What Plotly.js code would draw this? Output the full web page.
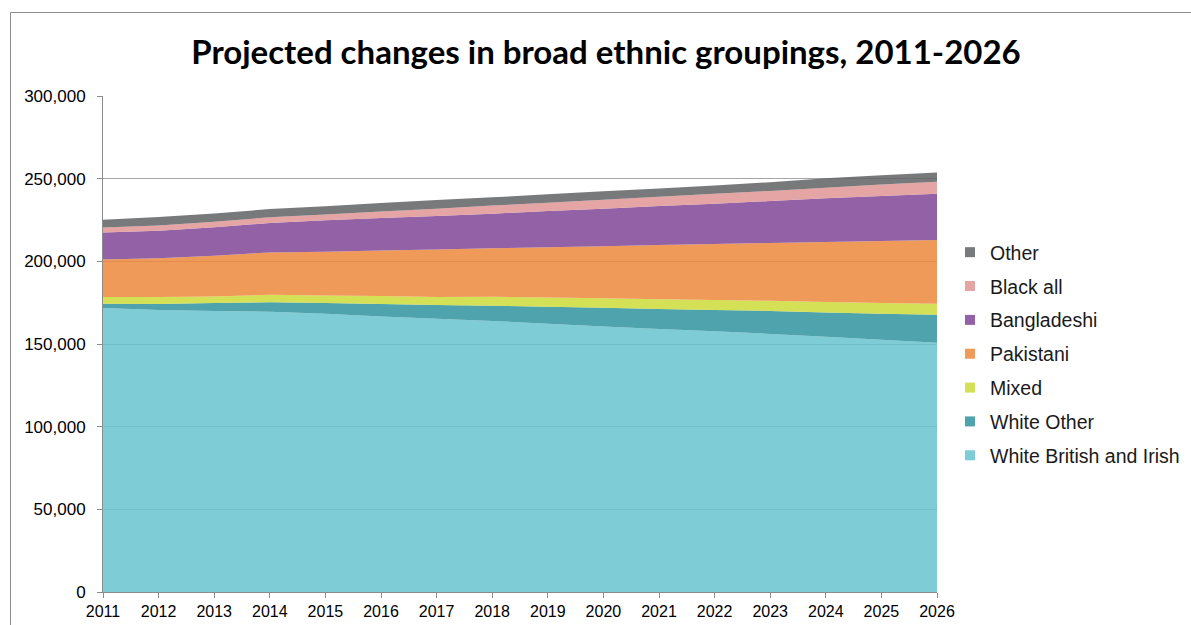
<!DOCTYPE html>
<html>
<head>
<meta charset="utf-8">
<script src="https://cdn.plot.ly/plotly-3.0.1.min.js"></script>
<style>
  html, body { margin: 0; padding: 0; background: #ffffff; }
  #chart { width: 1191px; height: 625px; }
</style>
</head>
<body>
<div id="chart"></div>
<script>
// ---- Data ----
const years = [2011, 2012, 2013, 2014, 2015, 2016, 2017, 2018, 2019, 2020, 2021, 2022, 2023, 2024, 2025, 2026];

const whiteBritishIrish = [171800, 170600, 169900, 169500, 168300, 166700, 165300, 163900, 162300, 160600, 159100, 157700, 156100, 154400, 152600, 150800];
const whiteOther        = [2500, 3600, 4900, 5700, 6500, 7500, 8300, 9300, 10300, 11400, 12100, 12900, 13900, 14700, 15700, 16900];
const mixed             = [4200, 4200, 4000, 4600, 4600, 4800, 4900, 5400, 5600, 5600, 5800, 6000, 6100, 6300, 6500, 6700];
const pakistani         = [22600, 23400, 24600, 25600, 26400, 27600, 28700, 29300, 30300, 31500, 32900, 33900, 35000, 36300, 37500, 38500];
const bangladeshi       = [16400, 16700, 17200, 17800, 19000, 19600, 20200, 20900, 21900, 22700, 23600, 24400, 25400, 26400, 27200, 28000];
const blackAll          = [3000, 3100, 3400, 3400, 3600, 4000, 4400, 4900, 5100, 5500, 5600, 6000, 6100, 6400, 6900, 7300];
const other             = [4700, 5200, 5000, 5000, 4900, 5100, 5300, 5000, 5000, 5100, 5000, 4900, 5300, 5700, 5600, 5600];

const seriesNames = ["White British and Irish", "White Other", "Mixed", "Pakistani", "Bangladeshi", "Black all", "Other"];
const seriesValues = [whiteBritishIrish, whiteOther, mixed, pakistani, bangladeshi, blackAll, other];
const fillColors = [
  "rgba(103,195,207,0.85)",
  "rgba(48,147,157,0.85)",
  "rgba(204,219,56,0.85)",
  "rgba(237,136,61,0.85)",
  "rgba(128,70,150,0.85)",
  "rgba(226,149,149,0.85)",
  "rgba(95,97,100,0.85)"
];
const legendColors = ["#7ECCD6", "#4FA3AC", "#D4E056", "#F09A5A", "#9362A6", "#E6A5A5", "#77797B"];

const FONT = "Arial, 'Liberation Sans', sans-serif";

const traces = [];
seriesNames.forEach((name, i) => {
  traces.push({
    type: "scatter",
    x: years,
    y: seriesValues[i],
    name: name,
    stackgroup: "one",
    mode: "none",
    fillcolor: fillColors[i],
    legendgroup: name,
    showlegend: false,
    hoverinfo: "x+y+name"
  });
});
// legend-only entries with square markers, top of stack listed first
for (let i = seriesNames.length - 1; i >= 0; i--) {
  traces.push({
    type: "scatter",
    x: [null],
    y: [null],
    name: seriesNames[i],
    mode: "markers",
    marker: { symbol: "square", size: 10, color: legendColors[i] },
    legendgroup: seriesNames[i],
    showlegend: true,
    hoverinfo: "skip"
  });
}

const W = 1191, H = 625;
const plotL = 103, plotR = 937, plotT = 96, plotB = 592;
const pw = plotR - plotL, ph = plotB - plotT;

const layout = {
  width: W,
  height: H,
  paper_bgcolor: "#ffffff",
  plot_bgcolor: "#ffffff",
  margin: { l: plotL, r: W - plotR, t: plotT, b: H - plotB, pad: 0, autoexpand: false },
  font: { family: FONT, size: 16, color: "#000000" },
  title: {
    text: "Projected changes in broad ethnic groupings, 2011-2026",
    font: { family: "Lato, 'Open Sans', sans-serif", size: 33, weight: 700, color: "#000000" },
    x: 606 / W,
    xanchor: "center",
    xref: "container",
    y: 1 - 52 / H,
    yanchor: "middle",
    yref: "container"
  },
  xaxis: {
    range: [2011, 2026],
    tickmode: "array",
    tickvals: years,
    ticktext: years.map(String),
    showgrid: false,
    zeroline: false,
    showline: true,
    linecolor: "#8c8c8c",
    linewidth: 1,
    ticks: "outside",
    ticklen: 5,
    tickcolor: "#8c8c8c",
    tickfont: { family: FONT, size: 16, color: "#000000" },
    automargin: false,
    fixedrange: true
  },
  yaxis: {
    range: [0, 300000],
    dtick: 50000,
    tick0: 0,
    tickformat: ",d",
    showgrid: true,
    gridcolor: "#a6a6a6",
    gridwidth: 1,
    zeroline: false,
    showline: true,
    linecolor: "#8c8c8c",
    linewidth: 1,
    ticks: "outside",
    ticklen: 5,
    tickcolor: "#8c8c8c",
    ticklabelstandoff: 8,
    tickfont: { family: FONT, size: 17, color: "#000000" },
    automargin: false,
    fixedrange: true
  },
  legend: {
    x: (950 - plotL) / pw,
    xanchor: "left",
    y: (plotB - 233) / ph,
    yanchor: "top",
    traceorder: "grouped",
    tracegroupgap: 5.5,
    itemwidth: 30,
    font: { family: FONT, size: 19.5, color: "#1a1a1a" },
    bgcolor: "rgba(0,0,0,0)",
    borderwidth: 0
  },
  shapes: [
    {
      type: "rect",
      xref: "paper", yref: "paper",
      x0: (10.5 - plotL) / pw, x1: (W + 5 - plotL) / pw,
      y0: (plotB - (H + 5)) / ph, y1: (plotB - 12.5) / ph,
      line: { color: "#8c8c8c", width: 1 },
      fillcolor: "rgba(0,0,0,0)",
      layer: "below"
    }
  ],
  showlegend: true,
  hovermode: "x"
};

Plotly.newPlot("chart", traces, layout, { displayModeBar: false, staticPlot: false });
</script>
</body>
</html>
